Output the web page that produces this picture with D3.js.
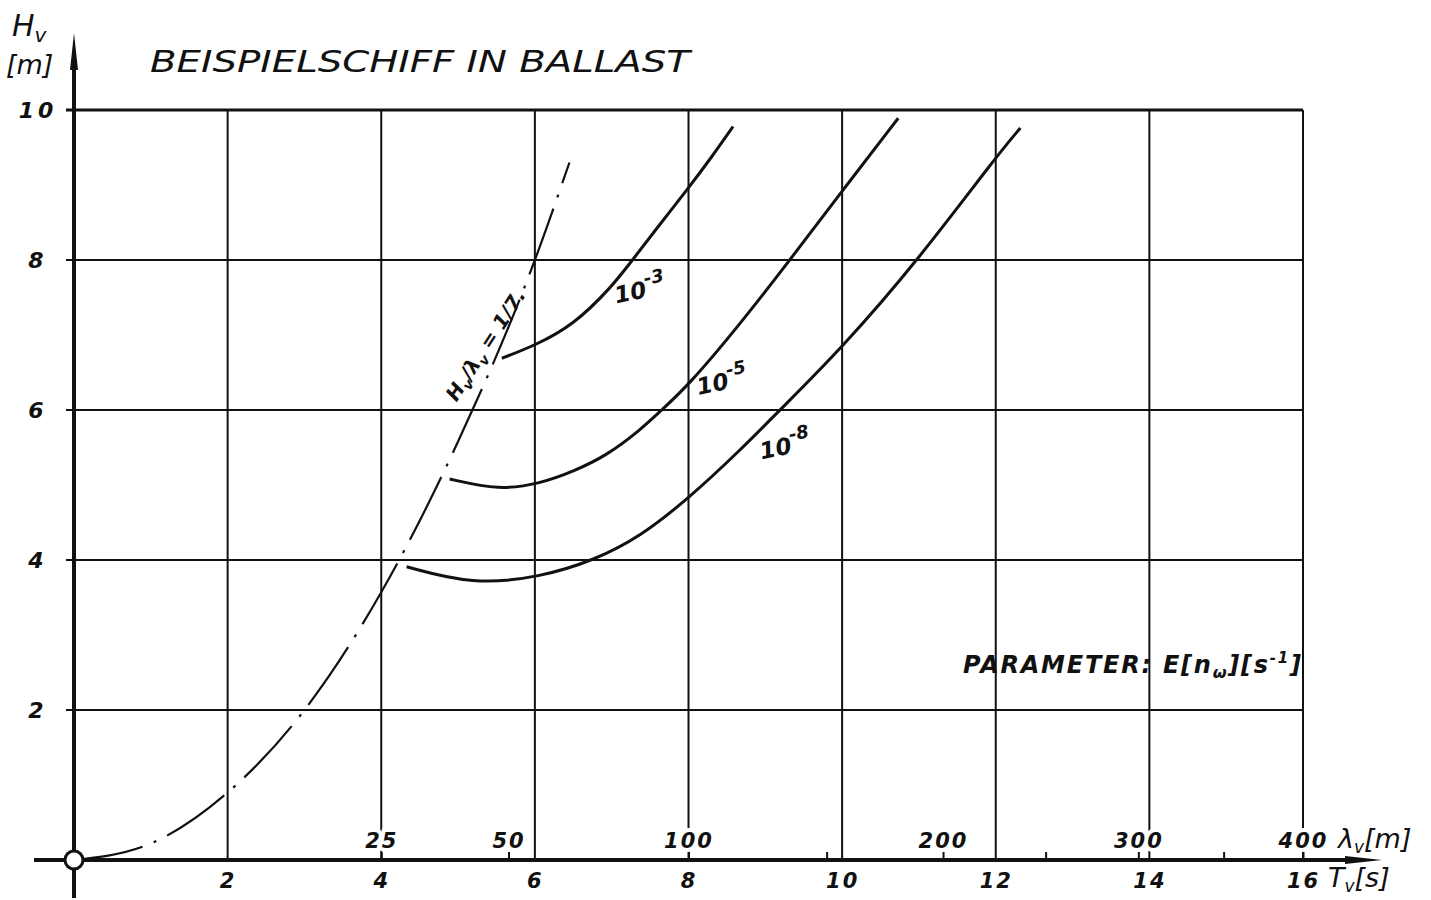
<!DOCTYPE html>
<html>
<head>
<meta charset="utf-8">
<script src="https://cdnjs.cloudflare.com/ajax/libs/d3/7.8.5/d3.min.js"></script>
<style>
  body { margin: 0; background: #fff; }
  svg text { font-family: "DejaVu Sans", sans-serif; font-style: italic; fill: #111; }
</style>
</head>
<body>
<div id="graph_draw"></div>
<script>
// tick values
var T_TICKS = [2, 4, 6, 8, 10, 12, 14, 16];
var H_TICKS = [2, 4, 6, 8, 10];
var LAMBDA_TICKS = [25, 50, 100, 150, 200, 250, 300, 350, 400];
var LAMBDA_LABELS = [25, 50, 100, 200, 300, 400];

// steepness limit H/lambda = 1/7
var limit_T = [0, 1, 2, 3, 4, 5, 6, 6.45];
var limit_H = [0, 0.22, 0.9, 2.0, 3.57, 5.58, 8.0, 9.3];

// curves for E[n_w] = 10^-3, 10^-5, 10^-8
var c3_T = [5.57, 6.0, 6.5, 7.0, 7.27, 7.6, 8.0, 8.3, 8.58];
var c3_H = [6.69, 6.86, 7.13, 7.64, 8.0, 8.44, 8.96, 9.37, 9.78];

var c5_T = [4.89, 5.54, 6.07, 6.5, 6.93, 7.37, 7.65, 8.0, 8.66, 9.32, 10.0, 10.73];
var c5_H = [5.08, 4.93, 5.02, 5.18, 5.39, 5.73, 6.0, 6.33, 7.13, 8.0, 8.92, 9.89];

var c8_T = [4.33, 5.19, 6.07, 6.78, 7.37, 8.0, 8.67, 9.19, 10.0, 10.99, 12.0, 12.32];
var c8_H = [3.91, 3.67, 3.77, 4.0, 4.31, 4.82, 5.46, 6.0, 6.83, 8.0, 9.37, 9.76];

var curves = [
    {exp: "-3", T: c3_T, H: c3_H, lblT: 7.06, lblH: 7.42},
    {exp: "-5", T: c5_T, H: c5_H, lblT: 8.13, lblH: 6.2},
    {exp: "-8", T: c8_T, H: c8_H, lblT: 8.95, lblH: 5.34}
];

var width = 1431, height = 900;

var svg = d3.select("#graph_draw").append("svg")
    .attr("width", width)
    .attr("height", height);

// scales
var x = d3.scaleLinear().domain([0, 16]).range([74, 1303]);
var y = d3.scaleLinear().domain([0, 10]).range([860, 110]);
var lam = d3.scaleSqrt().domain([0, 400]).range([x(0), x(16)]); // lambda = g T^2 / 2pi

// grid
svg.append("g").selectAll("line").data(T_TICKS).enter().append("line")
    .attr("x1", function(d) { return x(d); }).attr("x2", function(d) { return x(d); })
    .attr("y1", y(10)).attr("y2", y(0))
    .attr("stroke", "#111").attr("stroke-width", 2);
svg.append("g").selectAll("line").data(H_TICKS).enter().append("line")
    .attr("x1", x(0) - 8).attr("x2", x(16))
    .attr("y1", function(d) { return y(d); }).attr("y2", function(d) { return y(d); })
    .attr("stroke", "#111").attr("stroke-width", function(d) { return d == 10 ? 3 : 2.2; });

// T axis labels
var xAxis = svg.append("g")
    .attr("transform", "translate(0," + y(0) + ")")
    .call(d3.axisBottom(x).tickValues(T_TICKS).tickSize(0).tickPadding(9));
xAxis.select(".domain").remove();
xAxis.selectAll("text").attr("font-size", 21).attr("font-weight", "bold")
    .attr("font-family", "DejaVu Sans").attr("font-style", "italic")
    .attr("dy", "0.9em").attr("letter-spacing", 2);

// H axis labels
var yAxis = svg.append("g")
    .attr("transform", "translate(" + x(0) + ",0)")
    .call(d3.axisLeft(y).tickValues(H_TICKS).tickSize(0));
yAxis.select(".domain").remove();
yAxis.selectAll("text").attr("font-size", 22).attr("font-weight", "bold")
    .attr("font-family", "DejaVu Sans").attr("font-style", "italic")
    .attr("text-anchor", "middle").attr("x", -36).attr("letter-spacing", 4);

// lambda ticks on top of the T axis
var lAxis = svg.append("g")
    .attr("transform", "translate(0," + y(0) + ")")
    .call(d3.axisTop(lam).tickValues(LAMBDA_TICKS).tickSize(8).tickPadding(4)
        .tickFormat(function(d) { return LAMBDA_LABELS.indexOf(d) >= 0 ? d : ""; }));
lAxis.select(".domain").remove();
lAxis.selectAll("line").attr("stroke", "#111").attr("stroke-width", 2);
lAxis.selectAll("text").attr("font-size", 21).attr("font-family", "DejaVu Sans")
    .attr("font-style", "italic").attr("font-weight", "bold").attr("letter-spacing", 2)
    .attr("stroke", "#fff").attr("stroke-width", 8).attr("paint-order", "stroke");

// main axes with arrows
svg.append("line").attr("x1", 34).attr("x2", 1350).attr("y1", y(0)).attr("y2", y(0))
    .attr("stroke", "#111").attr("stroke-width", 4);
svg.append("path")
    .attr("d", "M1345," + (y(0) - 4) + "L1382," + y(0) + "L1345," + (y(0) + 4) + "Z")
    .attr("fill", "#111");
svg.append("line").attr("x1", x(0)).attr("x2", x(0)).attr("y1", 898).attr("y2", 66)
    .attr("stroke", "#111").attr("stroke-width", 4);
svg.append("path")
    .attr("d", "M" + (x(0) - 4) + ",70L" + x(0) + ",33L" + (x(0) + 4) + ",70Z")
    .attr("fill", "#111");

// dash-dot limit line
var limitLine = d3.line()
    .x(function(d) { return x(d[0]); })
    .y(function(d) { return y(d[1]); })
    .curve(d3.curveMonotoneX);

svg.append("path")
    .datum(d3.zip(limit_T, limit_H))
    .attr("d", limitLine)
    .attr("fill", "none").attr("stroke", "#111").attr("stroke-width", 2.2)
    .attr("stroke-dasharray", "70,12,3,12");

// curves, smoothed like the hand drawn ones
var line = d3.line()
    .x(function(d) { return x(d[0]); })
    .y(function(d) { return y(d[1]); })
    .curve(d3.curveBasis);

curves.forEach(function(c) {
    svg.append("path")
        .datum(d3.zip(c.T, c.H))
        .attr("d", line)
        .attr("fill", "none").attr("stroke", "#111").attr("stroke-width", 3);

    var t = svg.append("text")
        .attr("transform", "translate(" + x(c.lblT) + "," + y(c.lblH) + ") rotate(-12)")
        .attr("font-size", 23).attr("font-weight", "bold");
    t.append("tspan").text("10");
    t.append("tspan").attr("dy", -12).attr("font-size", 18).text(c.exp);
});

// label of the limit line
var lt = svg.append("text")
    .attr("transform", "translate(" + x(4.98) + "," + y(6.1) + ") rotate(-57)")
    .attr("font-size", 20).attr("font-weight", "bold");
lt.append("tspan").text("H");
lt.append("tspan").attr("dy", 5).attr("font-size", 14).text("v");
lt.append("tspan").attr("dy", -5).text("/λ");
lt.append("tspan").attr("dy", 5).attr("font-size", 14).text("v");
lt.append("tspan").attr("dy", -5).text(" = 1/7.");

// origin circle
svg.append("circle").attr("cx", x(0)).attr("cy", y(0)).attr("r", 9)
    .attr("fill", "#fff").attr("stroke", "#111").attr("stroke-width", 3);

// title
svg.append("text").attr("x", 150).attr("y", 72)
    .attr("font-size", 30).attr("textLength", 540).attr("lengthAdjust", "spacingAndGlyphs")
    .text("BEISPIELSCHIFF IN BALLAST");

// axis titles
var hv = svg.append("text").attr("x", 12).attr("y", 36).attr("font-size", 30);
hv.append("tspan").text("H");
hv.append("tspan").attr("dy", 6).attr("font-size", 20).text("v");
svg.append("text").attr("x", 6).attr("y", 74).attr("font-size", 27).text("[m]");

var lv = svg.append("text").attr("x", 1338).attr("y", 848).attr("font-size", 27);
lv.append("tspan").text("λ");
lv.append("tspan").attr("dy", 5).attr("font-size", 17).text("v");
lv.append("tspan").attr("dy", -5).text("[m]");

var tv = svg.append("text").attr("x", 1328).attr("y", 887).attr("font-size", 27);
tv.append("tspan").text("T");
tv.append("tspan").attr("dy", 5).attr("font-size", 17).text("v");
tv.append("tspan").attr("dy", -5).text("[s]");

// parameter note
var pt = svg.append("text").attr("x", x(16) - 2).attr("y", 673)
    .attr("text-anchor", "end").attr("font-size", 24).attr("font-weight", "bold")
    .attr("textLength", 338).attr("lengthAdjust", "spacing");
pt.append("tspan").text("PARAMETER: E[n");
pt.append("tspan").attr("dy", 5).attr("font-size", 16).text("ω");
pt.append("tspan").attr("dy", -5).text("][s");
pt.append("tspan").attr("dy", -10).attr("font-size", 15).text("-1");
pt.append("tspan").attr("dy", 10).text("]");
</script>
</body>
</html>
